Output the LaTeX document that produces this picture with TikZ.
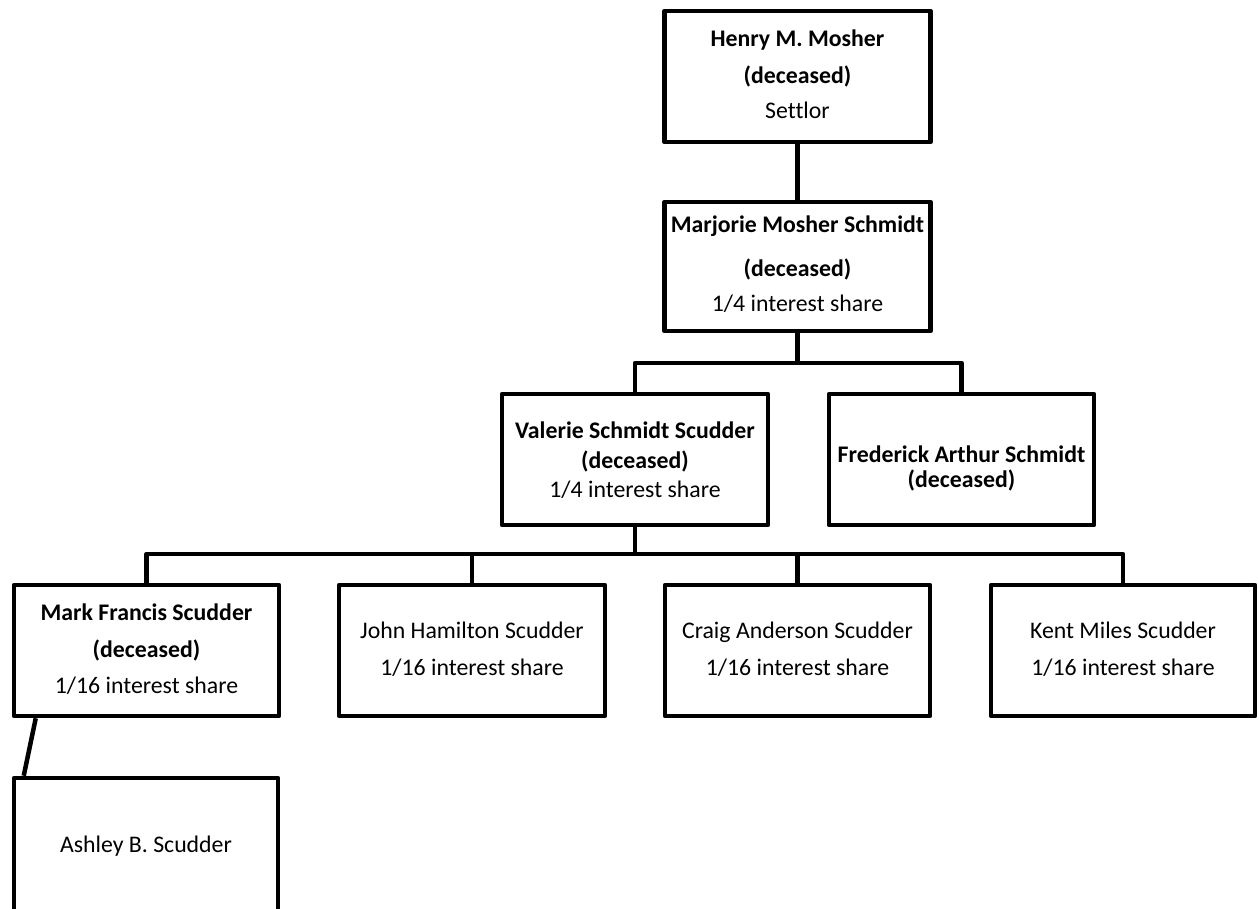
\documentclass[tikz,border=0pt]{standalone}
\usepackage{fontspec}
\setmainfont{Carlito}[Ligatures=NoCommon]
\begin{document}
\begin{tikzpicture}[x=1pt,y=-1pt,
  box/.style={draw=black, line width=4.5pt, line join=round, fill=white, inner sep=0pt, minimum width=266pt, minimum height=131pt},
  txt/.style={anchor=base, inner sep=0pt, font=\fontsize{23.8}{28}\selectfont},
  btxt/.style={txt, font=\fontsize{23.8}{28}\selectfont\bfseries},
  conn/.style={draw=black, line width=4.5pt, line join=round}]
\useasboundingbox (0,0) rectangle (1259,909);
% boxes
\node[box] (henry) at (797.5,76.5) {};
\node[box, minimum height=129pt] (marjorie) at (797.5,266.5) {};
\node[box] (valerie) at (635,459.5) {};
\node[box, minimum width=265pt] (frederick) at (961.5,459.5) {};
\node[box, minimum width=265pt] (mark) at (146.5,650.5) {};
\node[box] (john) at (472,650.5) {};
\node[box, minimum width=265pt] (craig) at (797.5,650.5) {};
\node[box, minimum width=264pt] (kent) at (1123,650.5) {};
\node[box, minimum width=264pt, minimum height=135pt] (ashley) at (146,845.5) {};
% texts
\node[btxt] (henry1) at (797.5,47) {Henry M. Mosher};
\node[btxt] (henry2) at (797.5,84) {(deceased)};
\node[txt] (henry3) at (797.5,119) {Settlor};
\node[btxt] (marj1) at (797.5,233) {Marjorie Mosher Schmidt};
\node[btxt] (marj2) at (797.5,277) {(deceased)};
\node[txt] (marj3) at (797.5,312) {1/4 interest share};
\node[btxt] (val1) at (635,438) {Valerie Schmidt Scudder};
\node[btxt] (val2) at (635,468) {(deceased)};
\node[txt] (val3) at (635,497) {1/4 interest share};
\node[btxt] (fred1) at (961.5,462) {Frederick Arthur Schmidt};
\node[btxt] (fred2) at (961.5,487) {(deceased)};
\node[btxt] (mark1) at (146.5,620) {Mark Francis Scudder};
\node[btxt] (mark2) at (146.5,657) {(deceased)};
\node[txt] (mark3) at (146.5,693) {1/16 interest share};
\node[txt] (john1) at (472,638) {John Hamilton Scudder};
\node[txt] (john2) at (472,675) {1/16 interest share};
\node[txt] (craig1) at (797.5,638) {Craig Anderson Scudder};
\node[txt] (craig2) at (797.5,675) {1/16 interest share};
\node[txt] (kent1) at (1123,638) {Kent Miles Scudder};
\node[txt] (kent2) at (1123,675) {1/16 interest share};
\node[txt] (ash1) at (146,852) {Ashley B. Scudder};
% connectors
\coordinate (b1) at (797.5,363);
\coordinate (b2) at (635,554);
\draw[conn] (henry.south) -- (marjorie.north);
\draw[conn] (marjorie.south) -- (b1);
\draw[conn] (valerie.north) |- (b1) -| (frederick.north);
\draw[conn] (valerie.south) -- (b2);
\draw[conn] (mark.north) |- (b2) -| (kent.north);
\draw[conn] (john.north) -- (john.north |- b2);
\draw[conn] (craig.north) -- (craig.north |- b2);
\draw[conn] ([xshift=24pt]mark.south west) -- ([xshift=12pt]ashley.north west);
\end{tikzpicture}
\end{document}
